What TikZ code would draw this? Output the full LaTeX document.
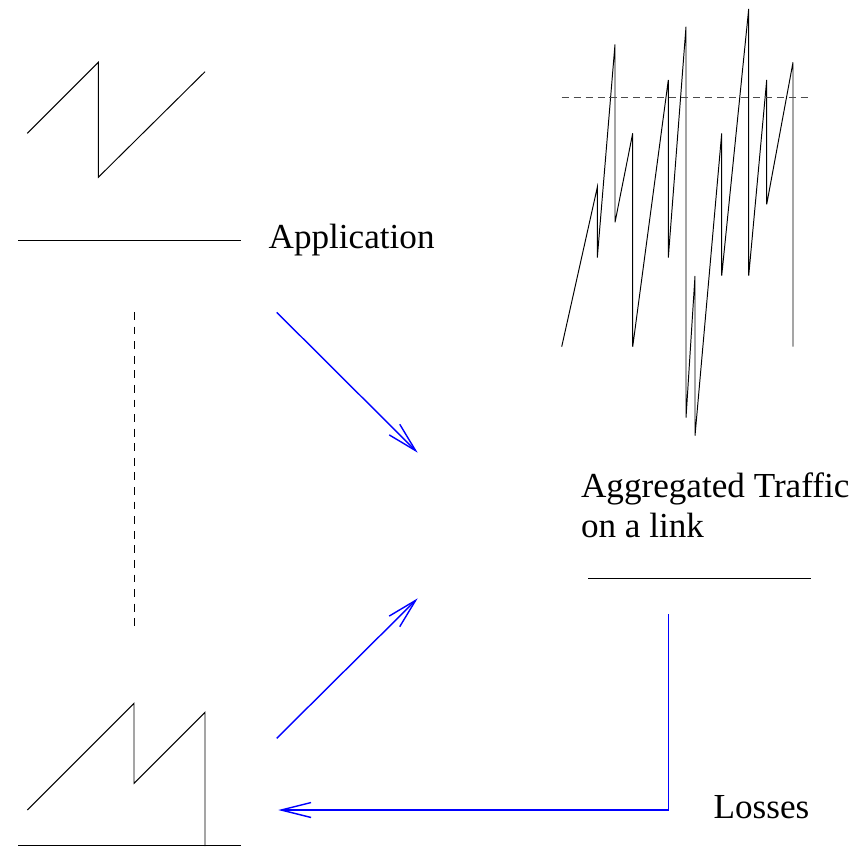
\documentclass[tikz,border=0pt]{standalone}
\usepackage{fontspec}
\setmainfont{Liberation Serif}
\usetikzlibrary{arrows.meta}

\tikzset{
  sig/.style={draw=black,line width=0.55pt},
  thres/.style={draw=black!70,line width=0.55pt,dash pattern=on 4pt off 2.8pt},
  flow/.style={draw=blue,line width=0.8pt,-{Straight Barb[length=17pt,width=8.5pt,line width=0.8pt]}},
  lbl/.style={inner sep=0pt,anchor=base west,font=\fontsize{20pt}{24pt}\selectfont}
}

\begin{document}
\begin{tikzpicture}[x=0.02cm,y=-0.02cm]

      \useasboundingbox (0,0) rectangle (855,846);
      \clip (0,0) rectangle (855,846);

      % sender at the top
      \draw[sig] (27.3,133.3) -- (98.3,62.3) -- (98.3,177.3) -- (205,71.7);
      \draw[sig] (18.3,240) -- (240.7,240);

      % other senders
      \draw[sig,dash pattern=on 4.5pt off 3.8pt] (134,312) -- (134,632);

      % sender at the bottom
      \draw[sig] (27.3,810) -- (134,703.3) -- (134,783.3) -- (205,712.3) -- (205,846);
      \draw[sig] (18.3,845) -- (240.7,845);

      % traffic on the link
      \draw[sig] (561.7,346.7) -- (597.3,187.3) -- (597.3,257.7) -- (615,44.3)
        -- (615,222.3) -- (632.7,133.3) -- (632.7,346.7) -- (668.3,80)
        -- (668.3,257.7) -- (686,26.7) -- (686,417.7) -- (695,276)
        -- (695,435.7) -- (721.7,133.3) -- (721.7,275.7) -- (748.7,9)
        -- (748.7,275.7) -- (766.7,80) -- (766.7,204.3) -- (793,62.3)
        -- (793,346.7);
      \draw[thres] (561.7,97.7) -- (811.7,97.7);
      \draw[sig] (588.3,578.3) -- (810.7,578.3);

      \begin{scope}[every node/.style={lbl}]
        \node (app)  at (268.3,248.7) {Application};
        \node (agg)  at (580.7,497.3) {Aggregated Traffic};
        \node (link) at (580.7,537.3) {on a link};
        \node (loss) at (713.3,818.3) {Losses};
      \end{scope}

      \coordinate (a1) at (276.7,312.3);
      \coordinate (a2) at (417.7,452.7);
      \coordinate (b1) at (276.7,738.3);
      \coordinate (b2) at (417.7,598.3);
      \coordinate (c1) at (668.3,614.3);
      \coordinate (c2) at (278.3,810);

      \draw[flow] (a1) -- (a2);
      \draw[flow] (b1) -- (b2);
      \draw[flow] (c1) |- (c2);

    \end{tikzpicture}
\end{document}
